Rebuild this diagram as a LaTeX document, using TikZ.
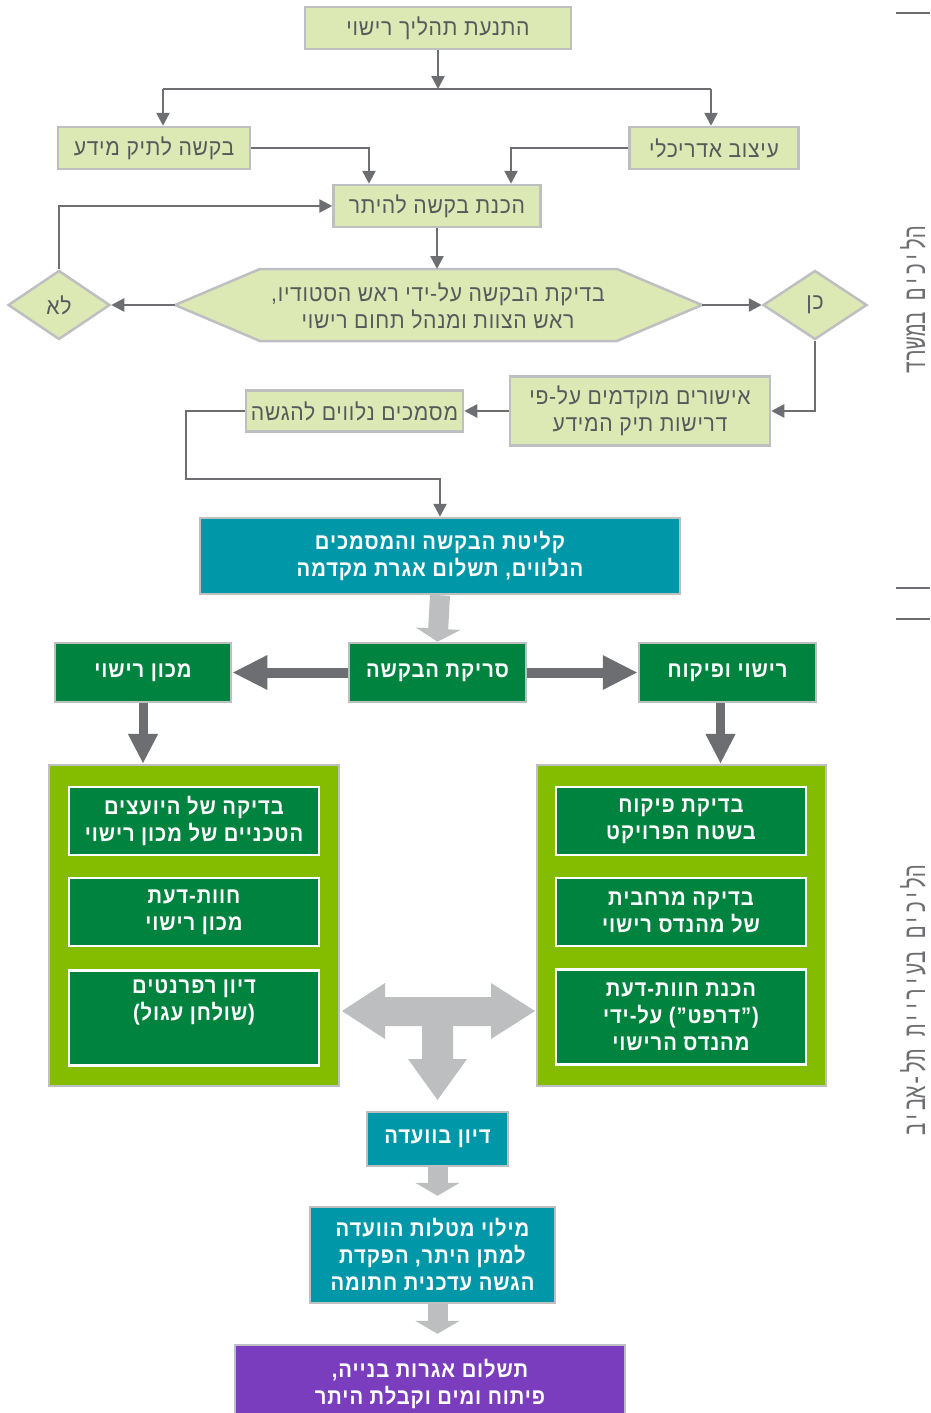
\documentclass[tikz,border=0pt]{standalone}
\usepackage{fontspec}
\setmainfont{Liberation Sans}
\newfontfamily\heb[Script=Hebrew,FakeStretch=0.92,LetterSpace=3]{Liberation Sans}
\newfontfamily\hebb[Script=Hebrew,FakeStretch=0.9,LetterSpace=4,UprightFont={* Bold}]{Liberation Sans}
\newfontfamily\hebmono[Script=Hebrew]{Liberation Mono}
\TeXXeTstate=1
\usetikzlibrary{arrows.meta,shapes.geometric}
\definecolor{lgfill}{HTML}{DCE9B5}
\definecolor{bgray}{HTML}{BEBFC1}
\definecolor{tgray}{HTML}{58595B}
\definecolor{cgray}{HTML}{6D6E71}
\definecolor{teal1}{HTML}{0097A9}
\definecolor{dgreen}{HTML}{00833E}
\definecolor{lime}{HTML}{84BC00}
\definecolor{agray}{HTML}{BCBEC0}
\definecolor{purp}{HTML}{7A3DBD}
\tikzset{
  lfont/.style={font=\heb\fontsize{23}{27}\selectfont},
  lbox/.style={draw=bgray, line width=2.5pt, fill=lgfill, text=tgray, lfont, align=center, inner sep=0pt},
  ldiam/.style={lbox, diamond},
  dbox/.style={draw=bgray, line width=2.5pt, fill=dgreen, text=white, font=\hebb\fontsize{22.5}{27}\selectfont, align=center, inner sep=0pt},
  ibox/.style={dbox, draw=white},
  tbox/.style={dbox, fill=teal1},
  pbox/.style={dbox, fill=purp},
  bigbox/.style={draw=bgray, line width=2.5pt, fill=lime, inner sep=0pt},
  conn/.style={draw=cgray, line width=2.5pt, -{Triangle[length=13pt,width=13pt]}},
  plain/.style={draw=cgray, line width=2.5pt},
  bigarrow/.style={draw=agray, line width=20pt, -{Triangle[length=13pt,width=44pt]}},
  hArrow/.style={draw=cgray, line width=10pt, -{Triangle[length=35pt,width=32pt]}},
  vArrow/.style={draw=cgray, line width=9pt, -{Triangle[length=30pt,width=28pt]}},
  side/.style={text=cgray, font=\hebmono\fontsize{20.5}{24}\selectfont, rotate=90},
  sideline/.style={draw=cgray, line width=2pt}
}
\begin{document}
\begin{tikzpicture}[x=1pt,y=-1pt]
\clip (0,0) rectangle (930,1413);
\fill[white] (0,0) rectangle (930,1413);

% side markers
\draw[sideline] (896,13) -- (930,13);
\draw[sideline] (896,588) -- (930,588);
\draw[sideline] (896,619) -- (930,619);
\node[side] (sideA) at (913,300) {\scalebox{1}[1.5]{\beginR הליכים במשרד\endR}};
\node[side] (sideB) at (913,1000) {\scalebox{1}[1.5]{\beginR הליכים בעיריית תל-אביב\endR}};

% top section
\node[lbox, minimum width=266, minimum height=42] (start) at (438,28) {\beginR התנעת תהליך רישוי\endR};
\node[lbox, minimum width=192, minimum height=42] (req) at (154,148) {\beginR בקשה לתיק מידע\endR};
\node[lbox, minimum width=169, minimum height=42] (arch) at (714,148) {\beginR עיצוב אדריכלי\endR};
\node[lbox, minimum width=207, minimum height=42] (prep) at (437,206) {\beginR הכנת בקשה להיתר\endR};

\coordinate (splitL) at (163,89);
\coordinate (splitR) at (711,89);
\draw[conn] (start.south) -- (start.south |- splitL);
\draw[plain] (splitL) -- (splitR);
\draw[conn] (splitL) -- (splitL |- req.north);
\draw[conn] (splitR) -- (splitR |- arch.north);
\draw[conn] (req.east) -| ([xshift=-68pt]prep.north);
\draw[conn] (arch.west) -| ([xshift=74pt]prep.north);

% hexagon
\coordinate (hexW) at (175,305);
\coordinate (hexE) at (702,305);
\coordinate (hexN) at (437,269);
\filldraw[draw=bgray, line width=2.5pt, fill=lgfill] (hexW) -- (260,269) -- (617,269) -- (hexE) -- (617,341) -- (260,341) -- cycle;
\node[text=tgray, lfont, align=center] (hex) at (438,306) {\beginR בדיקת הבקשה על-ידי ראש הסטודיו,\endR\\\beginR ראש הצוות ומנהל תחום רישוי\endR};
\draw[conn] (prep.south) -- (hexN);

\node[ldiam, minimum width=102, minimum height=69] (no) at (59,305) {\beginR לא\endR};
\node[ldiam, minimum width=104, minimum height=69] (yes) at (815,305) {\beginR כן\endR};
\draw[conn] (hexW) -- (no.east);
\draw[conn] (hexE) -- (yes.west);
\draw[conn] (no.north) |- (prep.west);

\node[lbox, minimum width=260, minimum height=69] (appr) at (640,411) {\beginR אישורים מוקדמים על-פי\endR\\\beginR דרישות תיק המידע\endR};
\node[lbox, minimum width=217, minimum height=41] (docs) at (354.5,411) {\beginR מסמכים נלווים להגשה\endR};
\draw[conn] (yes.south) |- (appr.east);
\draw[conn] (appr.west) -- (docs.east);

\node[tbox, minimum width=480, minimum height=76] (recv) at (440,556) {\beginR קליטת הבקשה והמסמכים\endR\\\beginR הנלווים, תשלום אגרת מקדמה\endR};
\coordinate (bend) at (186,479);
\draw[conn] (docs.west) -| (bend) -| (recv.north);

% scanning row
\node[dbox, minimum width=177, minimum height=59] (scan) at (437.5,672.5) {\beginR סריקת הבקשה\endR};
\node[dbox, minimum width=176, minimum height=59] (inst) at (143,672.5) {\beginR מכון רישוי\endR};
\node[dbox, minimum width=177, minimum height=59] (insp) at (727.5,672.5) {\beginR רישוי ופיקוח\endR};
\draw[bigarrow] (recv.south) -- (scan.north);
\draw[hArrow] (scan.west) -- (inst.east);
\draw[hArrow] (scan.east) -- (insp.west);

% big boxes
\node[bigbox, minimum width=290, minimum height=321] (lbig) at (194,925.5) {};
\node[bigbox, minimum width=289, minimum height=321] (rbig) at (681.5,925.5) {};
\draw[vArrow] (inst.south) -- (inst.south |- lbig.north);
\draw[vArrow] ([xshift=-7pt]insp.south) -- ([xshift=-7pt]insp.south |- rbig.north);

\node[ibox, minimum width=250, minimum height=68] (la) at (194,821) {\beginR בדיקה של היועצים\endR\\\beginR הטכניים של מכון רישוי\endR};
\node[ibox, minimum width=250, minimum height=68] (lb) at (194,912) {\beginR חוות-דעת\endR\\\beginR מכון רישוי\endR};
\node[ibox, minimum width=250, minimum height=95] (lc) at (194,1018) {\beginR דיון רפרנטים\endR\\\beginR (שולחן עגול)\endR\\\strut};
\node[ibox, minimum width=250, minimum height=68] (ra) at (681,821) {\beginR בדיקת פיקוח\endR\\\beginR בשטח הפרויקט\endR};
\node[ibox, minimum width=250, minimum height=68] (rb) at (681,912) {\beginR בדיקה מרחבית\endR\\\beginR של מהנדס רישוי\endR};
\node[ibox, minimum width=250, minimum height=95] (rc) at (681,1017) {\beginR הכנת חוות-דעת\endR\\\beginR (”דרפט”) על-ידי\endR\\\beginR מהנדס הרישוי\endR};

% T arrow
\fill[agray] (342,1011) -- (385,983) -- (385,997) -- (491,997) -- (491,983) -- (535,1011) -- (491,1039) -- (491,1026) -- (453,1026) -- (453,1059) -- (467,1059) -- (437.5,1100) -- (408,1059) -- (422,1059) -- (422,1026) -- (385,1026) -- (385,1039) -- cycle;

% bottom chain
\node[tbox, minimum width=141, minimum height=54] (comm) at (437.5,1139) {\beginR דיון בוועדה\endR};
\node[tbox, minimum width=245, minimum height=96] (tasks) at (432.5,1255) {\beginR מילוי מטלות הוועדה\endR\\\beginR למתן היתר, הפקדת\endR\\\beginR הגשה עדכנית חתומה\endR};
\node[pbox, minimum width=390, minimum height=78] (pay) at (430,1384) {\beginR תשלום אגרות בנייה,\endR\\\beginR פיתוח ומים וקבלת היתר\endR};
\draw[bigarrow, shorten >=10pt] (comm.south) -- (comm.south |- tasks.north);
\draw[bigarrow, shorten >=10pt] (comm.south |- tasks.south) -- (comm.south |- pay.north);
\end{tikzpicture}
\end{document}
